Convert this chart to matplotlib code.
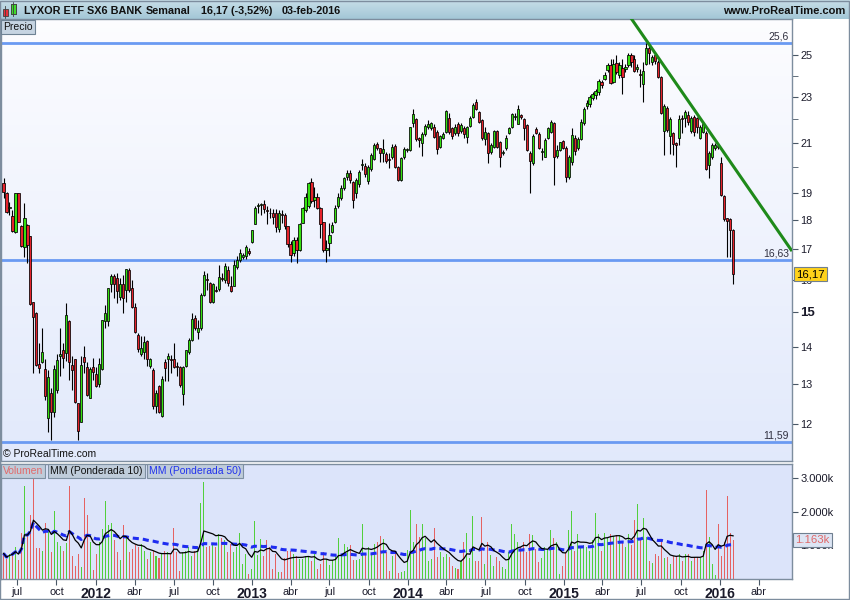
import numpy as np
import pandas as pd
import matplotlib
matplotlib.use('Agg')
import matplotlib.pyplot as plt
from matplotlib.patches import Rectangle
from matplotlib.ticker import FixedLocator, NullFormatter
from matplotlib.transforms import blended_transform_factory

plt.rcParams['font.family'] = ['Liberation Sans', 'DejaVu Sans']

# ---------------- data (weekly candles) ----------------
start_date = "2011-05-30"

opens = [
    19.37, 18.99, 18.44, 18.15, 17.60, 18.99, 17.79, 17.06, 17.83, 17.45,
    15.31, 14.96, 13.52, 13.57, 13.39, 12.16, 12.77, 12.30, 12.84, 13.73,
    13.92, 13.83, 14.73, 13.50, 13.65, 12.51, 12.06, 13.72, 13.44, 12.64,
    13.45, 13.26, 13.01, 13.38, 14.73, 14.74, 15.86, 16.10, 16.05, 15.44,
    15.86, 15.67, 16.32, 15.72, 15.16, 14.33, 13.79, 13.86, 14.17, 13.48,
    13.36, 12.45, 12.94, 12.20, 13.57, 13.65, 13.67, 13.67, 13.46, 13.45,
    12.75, 13.46, 13.84, 14.18, 14.81, 14.41, 14.52, 15.52, 16.03, 15.88,
    15.29, 15.67, 15.69, 16.05, 15.98, 16.32, 15.81, 15.81, 16.41, 16.64,
    16.72, 16.78, 16.95, 17.25, 17.85, 18.51, 18.55, 18.59, 18.38, 18.28,
    18.25, 18.25, 17.68, 18.23, 18.20, 17.79, 17.16, 16.88, 17.31, 16.97,
    17.92, 18.37, 18.52, 19.43, 18.74, 18.87, 18.43, 17.93, 16.97, 17.20,
    17.60, 17.93, 18.52, 18.80, 19.18, 19.60, 19.79, 19.41, 18.99, 19.35,
    20.11, 20.05, 19.48, 19.92, 20.32, 20.93, 20.77, 20.56, 20.52, 20.30,
    20.40, 20.86, 20.00, 19.50, 20.40, 20.70, 20.70, 21.86, 22.00, 21.18,
    21.01, 21.36, 21.68, 21.61, 21.68, 21.46, 20.81, 21.22, 21.46, 22.08,
    21.61, 21.42, 21.78, 21.51, 21.62, 21.25, 21.72, 22.11, 22.79, 22.33,
    21.97, 21.14, 21.42, 20.63, 20.84, 21.50, 21.04, 20.56, 20.77, 21.42,
    21.68, 22.11, 21.82, 22.18, 22.00, 21.75, 20.56, 20.16, 21.57, 21.36,
    20.63, 20.43, 21.18, 21.46, 21.86, 20.47, 20.71, 21.06, 20.78, 19.63,
    20.20, 21.19, 20.78, 21.15, 21.83, 22.59, 22.70, 22.95, 23.09, 23.24,
    23.70, 23.86, 24.26, 24.53, 23.70, 24.63, 24.02, 24.37, 24.34, 24.50,
    25.00, 24.79, 24.34, 24.08, 23.58, 24.58, 25.33, 24.67, 24.99, 24.67,
    23.94, 21.50, 22.51, 21.30, 21.40, 20.97, 21.20, 22.05, 22.05, 22.21,
    21.50, 22.11, 22.04, 21.21, 21.47, 21.40, 20.08, 20.43, 20.80, 20.86,
    20.18, 18.89, 18.07, 18.05, 17.67]

highs = [
    19.56, 19.05, 18.68, 18.37, 19.00, 19.00, 17.83, 18.62, 17.85, 17.45,
    15.31, 15.00, 14.10, 14.52, 13.65, 13.36, 12.90, 13.50, 13.81, 14.52,
    14.10, 15.26, 14.76, 13.73, 13.66, 12.51, 13.73, 14.01, 13.59, 13.44,
    13.69, 13.45, 13.69, 14.76, 15.21, 15.72, 16.18, 16.18, 16.21, 16.05,
    16.16, 16.34, 16.36, 15.98, 15.26, 14.38, 14.29, 14.29, 14.19, 13.69,
    13.41, 12.84, 12.98, 13.20, 13.65, 13.83, 13.77, 14.10, 13.59, 13.46,
    13.46, 13.92, 14.24, 14.96, 14.91, 14.76, 15.57, 16.26, 16.21, 15.93,
    15.88, 15.78, 16.48, 16.21, 16.52, 16.43, 16.12, 16.64, 16.75, 16.99,
    16.88, 17.14, 17.02, 17.67, 18.52, 18.62, 18.62, 18.74, 18.52, 18.44,
    18.40, 18.42, 18.37, 18.37, 18.25, 17.80, 17.26, 17.42, 17.42, 17.89,
    18.49, 18.99, 19.43, 19.56, 19.24, 19.00, 18.49, 17.95, 17.31, 17.89,
    17.95, 18.55, 18.99, 19.30, 19.63, 19.89, 19.89, 19.45, 19.56, 19.89,
    20.32, 20.16, 20.09, 20.56, 21.00, 21.04, 20.80, 21.14, 20.60, 20.56,
    20.95, 20.93, 20.05, 20.40, 20.84, 20.80, 21.68, 22.45, 22.08, 21.25,
    21.46, 21.82, 21.97, 21.90, 21.82, 21.54, 21.32, 21.46, 22.41, 22.26,
    21.68, 21.82, 21.90, 21.86, 21.70, 21.72, 22.15, 22.75, 22.90, 22.37,
    22.00, 21.65, 21.46, 21.00, 21.54, 21.54, 21.08, 20.70, 21.32, 21.65,
    22.30, 22.26, 22.64, 22.23, 22.08, 21.82, 20.66, 21.36, 21.65, 21.46,
    20.77, 21.18, 21.65, 21.97, 21.90, 20.91, 21.05, 21.12, 20.85, 20.50,
    21.61, 21.33, 21.26, 22.00, 22.56, 22.86, 23.10, 23.24, 23.39, 23.86,
    23.80, 24.18, 24.62, 24.83, 24.83, 24.99, 24.67, 24.83, 24.58, 25.08,
    25.10, 24.99, 24.58, 24.34, 24.67, 25.62, 25.45, 25.00, 25.05, 24.75,
    23.98, 22.70, 22.60, 22.10, 21.45, 21.05, 22.19, 22.20, 22.41, 22.37,
    22.15, 22.20, 22.10, 21.75, 21.90, 21.50, 20.65, 21.00, 20.98, 20.92,
    20.40, 18.93, 18.10, 18.10, 17.70]

lows = [
    18.80, 18.25, 18.19, 17.60, 17.55, 17.93, 17.08, 16.74, 16.52, 15.21,
    13.28, 13.46, 13.28, 13.55, 12.59, 11.82, 11.63, 12.17, 12.77, 13.20,
    13.41, 13.60, 13.11, 12.84, 12.51, 11.62, 12.06, 13.28, 12.68, 12.64,
    13.11, 12.93, 12.93, 13.36, 14.52, 14.58, 15.62, 15.42, 15.26, 15.35,
    14.96, 15.31, 15.60, 15.11, 14.38, 13.86, 13.73, 13.65, 13.46, 13.41,
    12.38, 12.26, 12.26, 12.17, 13.07, 13.07, 13.28, 13.41, 13.20, 12.93,
    12.47, 13.44, 13.81, 14.15, 14.47, 14.22, 14.47, 15.47, 15.67, 15.26,
    15.26, 15.62, 15.65, 15.96, 15.88, 15.78, 15.62, 15.78, 16.33, 16.58,
    16.66, 16.66, 16.80, 17.21, 17.85, 18.25, 18.19, 18.25, 17.85, 18.10,
    17.85, 17.60, 17.58, 17.89, 17.70, 17.08, 16.58, 16.75, 16.53, 16.95,
    17.89, 18.31, 18.46, 18.62, 18.49, 18.40, 17.37, 16.90, 16.58, 16.75,
    17.54, 17.89, 18.46, 18.74, 19.12, 19.50, 19.37, 18.43, 18.80, 19.24,
    19.89, 19.63, 19.33, 19.86, 20.29, 20.70, 20.22, 20.22, 20.16, 19.96,
    20.35, 19.96, 19.45, 19.48, 20.35, 20.60, 20.64, 21.68, 21.08, 20.84,
    20.46, 21.30, 21.60, 21.54, 21.18, 20.53, 20.77, 21.14, 21.43, 21.39,
    21.14, 21.32, 21.30, 21.42, 21.22, 20.97, 21.68, 22.08, 22.41, 21.86,
    21.10, 20.90, 20.16, 20.52, 20.80, 20.80, 20.02, 20.49, 20.70, 21.36,
    21.61, 21.97, 21.78, 22.00, 21.11, 20.66, 18.99, 20.09, 21.36, 20.73,
    20.29, 20.40, 21.14, 21.42, 19.30, 20.37, 20.64, 20.73, 19.44, 19.55,
    20.10, 20.51, 20.70, 21.10, 21.76, 22.48, 22.55, 22.85, 22.93, 23.09,
    23.40, 23.80, 24.18, 23.62, 23.65, 24.10, 23.90, 23.16, 24.18, 24.42,
    24.42, 24.15, 24.18, 23.47, 22.78, 24.50, 24.55, 24.50, 24.55, 23.90,
    22.25, 20.51, 21.47, 20.55, 20.51, 20.02, 20.90, 21.40, 21.69, 21.75,
    21.40, 21.30, 21.40, 21.15, 21.40, 19.88, 19.58, 20.35, 20.70, 20.75,
    18.90, 17.98, 16.74, 16.74, 15.85]

closes = [
    19.05, 18.31, 18.48, 17.62, 18.99, 17.95, 17.10, 18.07, 17.14, 15.24,
    14.86, 13.50, 13.41, 13.84, 12.70, 13.17, 12.30, 13.38, 13.63, 13.79,
    13.69, 14.91, 13.59, 13.37, 12.53, 11.85, 13.50, 13.59, 12.72, 13.39,
    13.31, 12.95, 13.52, 14.76, 14.96, 15.72, 16.12, 15.86, 15.65, 15.86,
    15.42, 16.34, 15.67, 15.16, 14.42, 13.93, 13.95, 14.14, 13.67, 13.65,
    12.45, 12.77, 12.30, 13.14, 13.41, 13.73, 13.63, 13.45, 13.44, 12.96,
    13.45, 13.92, 14.18, 14.80, 14.52, 14.52, 15.52, 16.16, 16.00, 15.29,
    15.86, 15.65, 16.08, 16.03, 16.45, 15.90, 15.64, 16.48, 16.64, 16.86,
    16.80, 17.06, 16.86, 17.65, 18.46, 18.57, 18.57, 18.40, 18.33, 18.25,
    18.13, 17.77, 18.25, 18.20, 17.79, 17.16, 16.80, 17.31, 16.97, 17.85,
    18.43, 18.87, 19.37, 18.70, 18.87, 18.43, 17.87, 16.97, 17.03, 17.48,
    17.83, 18.43, 18.84, 19.18, 19.56, 19.79, 19.50, 18.74, 19.50, 19.83,
    20.13, 19.72, 20.02, 20.49, 20.90, 20.77, 20.59, 20.73, 20.25, 20.29,
    20.81, 20.00, 19.50, 20.36, 20.73, 20.72, 21.65, 22.23, 21.14, 21.11,
    21.36, 21.72, 21.82, 21.85, 21.25, 20.73, 21.28, 21.39, 22.37, 21.46,
    21.28, 21.68, 21.42, 21.74, 21.39, 21.65, 22.08, 22.64, 22.44, 21.90,
    21.18, 21.46, 20.56, 20.90, 21.50, 20.84, 20.43, 20.60, 21.18, 21.61,
    22.23, 22.15, 22.44, 22.11, 21.61, 20.70, 20.27, 21.30, 21.42, 20.77,
    20.65, 21.11, 21.61, 21.90, 20.43, 20.71, 21.02, 20.80, 19.63, 20.40,
    21.33, 20.64, 21.15, 21.90, 22.45, 22.74, 23.01, 23.12, 23.27, 23.73,
    23.55, 24.02, 24.53, 23.67, 24.58, 24.18, 24.50, 23.94, 24.42, 24.99,
    24.67, 24.21, 24.42, 24.02, 24.21, 25.37, 25.08, 24.91, 24.70, 23.94,
    22.30, 22.60, 21.54, 22.00, 20.95, 20.90, 22.01, 22.00, 22.31, 21.87,
    22.06, 21.47, 21.69, 21.68, 21.78, 19.92, 20.58, 20.90, 20.90, 20.84,
    18.93, 18.03, 17.98, 17.65, 16.17]

volumes = [  # thousands
    764, 598, 745, 794, 960, 568, 1362, 2783, 1284, 1921,
    2999, 921, 921, 823, 1676, 1411, 794, 2019, 1117, 990,
    843, 1058, 2783, 696, 402, 745, 353, 2411, 1901, 1088,
    255, 745, 1117, 1480, 2313, 1607, 1676, 1156, 794, 568,
    1607, 1235, 794, 892, 1019, 941, 1039, 843, 598, 794,
    823, 696, 627, 745, 823, 794, 745, 1509, 794, 235,
    794, 823, 960, 696, 843, 960, 2264, 2881, 960, 990,
    1058, 941, 1333, 1235, 1156, 794, 1039, 794, 941, 1382,
    451, 745, 157, 304, 1725, 725, 1186, 696, 1156, 941,
    304, 745, 206, 206, 627, 823, 843, 745, 696, 598,
    598, 696, 647, 549, 745, 304, 451, 794, 598, 431,
    568, 696, 1215, 696, 1039, 941, 1019, 568, 568, 598,
    1646, 764, 941, 764, 1039, 1117, 1284, 1186, 794, 235,
    696, 823, 176, 206, 235, 862, 2068, 1088, 1627, 1254,
    1627, 1235, 549, 598, 1509, 666, 794, 647, 745, 647,
    402, 333, 304, 549, 1117, 1382, 627, 1872, 549, 529,
    1842, 451, 1088, 725, 402, 666, 549, 353, 304, 794,
    1627, 1333, 1117, 941, 1088, 794, 1333, 1313, 892, 500,
    627, 941, 892, 1450, 1215, 1088, 137, 402, 764, 1450,
    2038, 843, 1333, 941, 1019, 960, 843, 1156, 1970, 1333,
    843, 1382, 1235, 1333, 1284, 1313, 1284, 1137, 941, 1333,
    1019, 1744, 2234, 1235, 1803, 1254, 549, 470, 745, 696,
    1186, 627, 647, 451, 696, 647, 745, 529, 745, 745,
    529, 647, 647, 627, 843, 2656, 1254, 451, 127, 1627,
    696, 1117, 2460, 1362, 1163]

levels = [25.6, 16.63, 11.59]
level_labels = ["25,6", "16,63", "11,59"]
trend_idx = [215, 263.7]
trend_price = [25.74, 16.93]
last_price = 16.17
last_volume = 1163
price_ticks = [12, 13, 14, 15, 16, 17, 18, 19, 21, 23, 25]
price_minor = [20, 22, 24]
vol_ticks = [1000, 2000, 3000]
vol_tick_labels = ["1.000k", "2.000k", "3.000k"]
month_names = {4: "abr", 7: "jul", 10: "oct"}

# ---------------- setup ----------------
n = min(len(opens), len(highs), len(lows), len(closes), len(volumes))
O = np.array(opens[:n]); Hh = np.array(highs[:n]); L = np.array(lows[:n]); C = np.array(closes[:n])
V = np.array(volumes[:n], dtype=float)
idx = np.arange(n)
t0 = pd.Timestamp(start_date)

W, Hpx = 850, 600
fig = plt.figure(figsize=(8.5, 6), dpi=100)
fig.patch.set_facecolor('white')


def rect(x0, y0, x1, y1):
    return [x0 / W, 1 - y1 / Hpx, (x1 - x0) / W, (y1 - y0) / Hpx]


def fx(px):
    return px / W


def fy(py):
    return 1 - py / Hpx


border = '#7D8D9E'

# header bar
hax = fig.add_axes(rect(0, 0, 850, 19))
grad = np.linspace(0, 1, 50).reshape(-1, 1)
top_c = np.array([0.78, 0.87, 0.91]); bot_c = np.array([0.64, 0.78, 0.84])
img = top_c[None, None, :] * (1 - grad[:, :, None]) + bot_c[None, None, :] * grad[:, :, None]
hax.imshow(img, aspect='auto', extent=[0, 850, 19, 0])
hax.set_xlim(0, 850); hax.set_ylim(19, 0)
hax.axis('off')
# small candle icon
hax.add_patch(Rectangle((3, 9), 5, 7, fc='#E8303A', ec='#404040', lw=0.6))
hax.plot([5.5, 5.5], [6, 18], color='#404040', lw=0.6)
hax.add_patch(Rectangle((11, 4), 5, 10, fc='#3EDB2A', ec='#404040', lw=0.6))
hax.plot([13.5, 13.5], [2, 16], color='#404040', lw=0.6)
hax.add_patch(Rectangle((11, 4), 5, 10, fc='#3EDB2A', ec='#404040', lw=0.6))

tkw = dict(fontsize=7.8, fontweight='bold', color='#111111', va='center')
fig.text(fx(24), fy(10.5), "LYXOR ETF SX6 BANK", **tkw)
fig.text(fx(146), fy(10.5), "Semanal", **tkw)
fig.text(fx(201), fy(10.5), "16,17 (-3,52%)", **tkw)
fig.text(fx(282), fy(10.5), "03-feb-2016", **tkw)
fig.text(fx(845), fy(11), "www.ProRealTime.com", fontsize=8, fontweight='bold',
         color='#111111', va='center', ha='right')

# ---------------- price panel ----------------
prect = rect(1, 19, 792, 461)
bg = fig.add_axes(prect, zorder=0)
g2 = np.linspace(0, 1, 100).reshape(-1, 1)
c_top = np.array([0.99, 0.99, 1.0]); c_bot = np.array([0.885, 0.915, 0.985])
img2 = c_top[None, None, :] * (1 - g2[:, :, None]) + c_bot[None, None, :] * g2[:, :, None]
bg.imshow(img2, aspect='auto', extent=[0, 1, 0, 1])
bg.axis('off')

ax = fig.add_axes(prect, zorder=1)
ax.patch.set_alpha(0)
ax.set_yscale('log')
ax.set_xlim(-0.84, 263.7)
ax.set_ylim(11.153, 26.86)

green = '#35E10F'
red = '#E5222B'
up = C >= O
ccol = np.where(up, green, red)
ax.vlines(idx, L, Hh, color='black', lw=0.8, zorder=3)
bottoms = np.minimum(O, C)
heights = np.maximum(np.abs(C - O), 0.025)
ax.bar(idx, heights, bottom=bottoms, width=0.72, color=ccol, edgecolor='black',
       linewidth=0.55, zorder=4)

btr = blended_transform_factory(ax.transAxes, ax.transData)
for lv, lb in zip(levels, level_labels):
    ax.axhline(lv, color='#6A9AF2', lw=2.0, zorder=2)
    ax.text(0.996, lv * 1.003, lb, transform=btr, ha='right', va='bottom',
            fontsize=7.5, color='#303040', zorder=6)

# trend line (straight in log space through the two anchors, extended left)
slope = (np.log(trend_price[1]) - np.log(trend_price[0])) / (trend_idx[1] - trend_idx[0])
tx = np.array([trend_idx[0] - 12, trend_idx[1]])
ty = np.exp(np.log(trend_price[0]) + slope * (tx - trend_idx[0]))
ax.plot(tx, ty, color='#1F8A1A', lw=2.2, zorder=5, solid_capstyle='butt')

ax.set_xticks([])
ax.yaxis.tick_right()
ax.yaxis.set_major_locator(FixedLocator(price_ticks))
ax.set_yticklabels([str(t) for t in price_ticks])
ax.yaxis.set_minor_locator(FixedLocator(price_minor))
ax.yaxis.set_minor_formatter(NullFormatter())
ax.tick_params(axis='y', which='both', direction='out', length=4, color='#4A5866',
               labelsize=7.8, pad=2, labelcolor='#1A1A2A')
for lbl in ax.get_yticklabels():
    if lbl.get_text() == '15':
        lbl.set_fontweight('bold')
        lbl.set_fontsize(9.5)
for sp in ax.spines.values():
    sp.set_color(border); sp.set_linewidth(1)

ax.text(1.005, last_price, "16,17", transform=btr, ha='left', va='center', fontsize=8.2,
        color='black', zorder=10, clip_on=False,
        bbox=dict(boxstyle='square,pad=0.18', fc='#FFD21A', ec='#6F7F90', lw=0.8))

fig.text(fx(3), fy(27), "Precio", fontsize=7.5, color='#111111', va='center',
         bbox=dict(boxstyle='square,pad=0.2', fc='#C6D4E2', ec='#6E8294', lw=0.8))
fig.text(fx(3), fy(454), "\u00a9 ProRealTime.com", fontsize=7.5, color='#111111', va='center')

# ---------------- volume panel ----------------
vax = fig.add_axes(rect(1, 464, 792, 579), zorder=1)
vax.set_facecolor('#DCE4FA')
vax.set_xlim(-0.84, 263.7)
vax.set_ylim(0, 3426)
vcol = np.where(up, '#52CF3C', '#E56262')
vax.bar(idx, V, width=0.34, color=vcol, linewidth=0, zorder=2)


def wma(v, w):
    out = np.empty(len(v))
    for k in range(len(v)):
        m = min(w, k + 1)
        wt = np.arange(1, m + 1, dtype=float)
        out[k] = np.dot(v[k + 1 - m:k + 1], wt) / wt.sum()
    return out


vax.plot(idx, wma(V, 10), color='black', lw=0.9, zorder=4)
vax.plot(idx, wma(V, 50), color='#1E2CF0', lw=2.2, dashes=(2.0, 1.3), zorder=3)

vax.yaxis.tick_right()
vax.set_yticks(vol_ticks)
vax.set_yticklabels(vol_tick_labels)
vax.tick_params(axis='y', direction='out', length=4, color='#4A5866', labelsize=8,
                pad=2, labelcolor='#1A1A2A')
vtr = blended_transform_factory(vax.transAxes, vax.transData)
vax.text(1.004, last_volume, "1.163k", transform=vtr, ha='left', va='center', fontsize=8.2,
         color='#E06868', zorder=10, clip_on=False,
         bbox=dict(boxstyle='square,pad=0.18', fc='#DDE5F4', ec='#6F7F90', lw=0.8))
for sp in vax.spines.values():
    sp.set_color(border); sp.set_linewidth(1)

# x ticks (quarters)
qd = pd.date_range('2011-07-01', '2016-04-01', freq='QS-JAN')
qpos = (qd - t0).days / 7.0
qlab = [str(d.year) if d.month == 1 else month_names[d.month] for d in qd]
vax.set_xticks(qpos)
vax.set_xticklabels(qlab)
vax.tick_params(axis='x', direction='out', length=4, color='#4A5866', labelsize=7.8,
                pad=2, labelcolor='#1A1A2A')
for lbl in vax.get_xticklabels():
    if lbl.get_text().isdigit():
        lbl.set_fontweight('bold')
        lbl.set_fontsize(10)

# indicator tabs
lab_kw = dict(fontsize=7.5, va='center',
              bbox=dict(boxstyle='square,pad=0.2', fc='#BFCCDA', ec='#7E90A2', lw=0.8))
fig.text(fx(3), fy(471), "Volumen", color='#E26A6A', **lab_kw)
fig.text(fx(50), fy(471), "MM (Ponderada 10)", color='#111111', **lab_kw)
fig.text(fx(149), fy(471), "MM (Ponderada 50)", color='#2233EE', **lab_kw)

# outer frame
fig.add_artist(Rectangle((0.0005, 0.001), 0.998, 0.998, transform=fig.transFigure,
                         fill=False, ec=border, lw=1))

fig.savefig('out.png', dpi=100)
